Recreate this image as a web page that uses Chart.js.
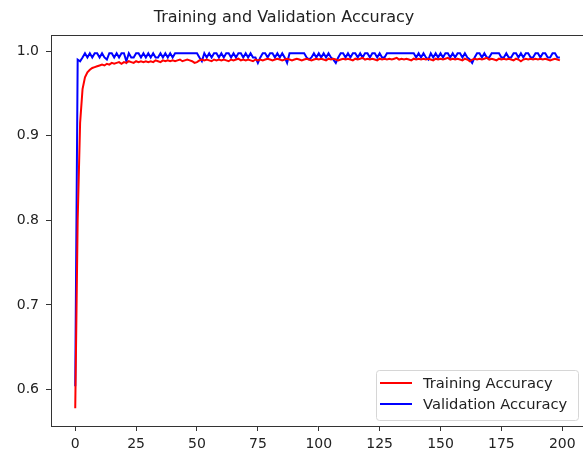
<!DOCTYPE html>
<html>
<head>
<meta charset="utf-8">
<script src="https://cdn.jsdelivr.net/npm/chart.js@4/dist/chart.umd.min.js"></script>
<style>
  html, body { margin: 0; padding: 0; background: #fff; overflow: hidden; }
  canvas { display: block; }
</style>
</head>
<body>
<canvas id="acc" width="583" height="461"></canvas>
<script>
/*
DATA
*/
const chartTitle = 'Training and Validation Accuracy';
const seriesNames = ['Training Accuracy', 'Validation Accuracy'];

// accuracy per epoch, one row = 10 epochs
const trainAcc = [
  0.578, 0.800, 0.915, 0.955, 0.969, 0.975, 0.978, 0.980, 0.981, 0.982,
  0.983, 0.984, 0.983, 0.985, 0.984, 0.986, 0.985, 0.986, 0.987, 0.985,
  0.987, 0.986, 0.988, 0.987, 0.986, 0.988, 0.987, 0.988, 0.987, 0.988,
  0.987, 0.988, 0.987, 0.989, 0.988, 0.987, 0.989, 0.988, 0.989, 0.988,
  0.989, 0.988, 0.989, 0.990, 0.988, 0.989, 0.990, 0.989, 0.988, 0.986,
  0.987, 0.989, 0.990, 0.989, 0.990, 0.989, 0.988, 0.990, 0.989, 0.990,
  0.989, 0.990, 0.989, 0.988, 0.990, 0.989, 0.990, 0.991, 0.989, 0.990,
  0.989, 0.990, 0.989, 0.988, 0.990, 0.989, 0.990, 0.989, 0.990, 0.991,
  0.990, 0.989, 0.990, 0.991, 0.990, 0.989, 0.990, 0.991, 0.990, 0.989,
  0.990, 0.991, 0.990, 0.989, 0.990, 0.991, 0.990, 0.989, 0.990, 0.991,
  0.990, 0.991, 0.990, 0.989, 0.991, 0.990, 0.991, 0.990, 0.989, 0.990,
  0.991, 0.990, 0.991, 0.990, 0.989, 0.991, 0.990, 0.991, 0.992, 0.990,
  0.991, 0.990, 0.991, 0.990, 0.989, 0.991, 0.990, 0.991, 0.990, 0.991,
  0.990, 0.991, 0.992, 0.990, 0.991, 0.990, 0.991, 0.990, 0.989, 0.991,
  0.990, 0.991, 0.990, 0.991, 0.990, 0.991, 0.990, 0.989, 0.991, 0.990,
  0.991, 0.990, 0.991, 0.992, 0.990, 0.991, 0.990, 0.991, 0.990, 0.989,
  0.991, 0.990, 0.988, 0.990, 0.991, 0.990, 0.991, 0.990, 0.991, 0.992,
  0.990, 0.991, 0.990, 0.989, 0.991, 0.990, 0.991, 0.990, 0.991, 0.990,
  0.989, 0.991, 0.990, 0.988, 0.990, 0.991, 0.990, 0.991, 0.990, 0.991,
  0.990, 0.991, 0.990, 0.991, 0.990, 0.989, 0.990, 0.991, 0.990, 0.989
];

const valAcc = [
  0.604, 0.990, 0.988, 0.9925, 0.9975, 0.9925, 0.9975, 0.9925, 0.9975, 0.9975,
  0.9925, 0.9975, 0.9925, 0.990, 0.9975, 0.9975, 0.9925, 0.9975, 0.9925, 0.9975,
  0.9975, 0.988, 0.9975, 0.9925, 0.9925, 0.9975, 0.9975, 0.9925, 0.9975, 0.9925,
  0.9975, 0.9925, 0.9975, 0.9925, 0.9925, 0.9975, 0.9925, 0.9975, 0.9925, 0.9975,
  0.9925, 0.9975, 0.9975, 0.9975, 0.9975, 0.9975, 0.9975, 0.9975, 0.9975, 0.9975,
  0.9975, 0.9925, 0.988, 0.9975, 0.9925, 0.9975, 0.9925, 0.9975, 0.9975, 0.9925,
  0.9975, 0.9925, 0.9975, 0.9975, 0.9925, 0.9975, 0.9925, 0.9975, 0.9975, 0.9925,
  0.9975, 0.9925, 0.9975, 0.9925, 0.9925, 0.986, 0.9925, 0.9975, 0.9975, 0.9925,
  0.9975, 0.9975, 0.9925, 0.9975, 0.9925, 0.9975, 0.9925, 0.986, 0.9975, 0.9975,
  0.9975, 0.9975, 0.9975, 0.9975, 0.9975, 0.9925, 0.990, 0.9925, 0.9975, 0.9925,
  0.9975, 0.9925, 0.9975, 0.9925, 0.9975, 0.9925, 0.990, 0.986, 0.9925, 0.9975,
  0.9975, 0.9925, 0.9975, 0.9925, 0.9975, 0.9975, 0.9925, 0.9975, 0.9925, 0.9975,
  0.9975, 0.9925, 0.9975, 0.9975, 0.9925, 0.9975, 0.9925, 0.9925, 0.9975, 0.9975,
  0.9975, 0.9975, 0.9975, 0.9975, 0.9975, 0.9975, 0.9975, 0.9975, 0.9975, 0.9975,
  0.9925, 0.9975, 0.9925, 0.9975, 0.9925, 0.990, 0.9975, 0.9925, 0.9975, 0.9925,
  0.9975, 0.9925, 0.9975, 0.9975, 0.9925, 0.9975, 0.9925, 0.9975, 0.9975, 0.9925,
  0.9975, 0.9925, 0.990, 0.986, 0.9925, 0.9975, 0.9975, 0.9925, 0.9975, 0.9925,
  0.9925, 0.9975, 0.9975, 0.9975, 0.9975, 0.9925, 0.9925, 0.9975, 0.9925, 0.9925,
  0.9975, 0.9975, 0.9925, 0.9975, 0.9925, 0.9975, 0.9975, 0.9925, 0.9925, 0.9975,
  0.9975, 0.9925, 0.9975, 0.9975, 0.9925, 0.9925, 0.9975, 0.9975, 0.9925, 0.9925
];

const epochs = trainAcc.map((v, i) => i);
const xTicks = [0, 25, 50, 75, 100, 125, 150, 175, 200];
const yTicks = [0.6, 0.7, 0.8, 0.9, 1.0];

/*
CHART VARS
*/
const FONT = '"DejaVu Sans", sans-serif';
const TEXT_COLOR = '#222';
const AXIS_COLOR = '#333';

let canvasAcc = document.getElementById('acc');

let dataAcc = {
  datasets: [{
    label: seriesNames[0],
    data: epochs.map(e => ({ x: e, y: trainAcc[e] })),
    borderColor: '#ff0000',
    borderWidth: 2,
    pointRadius: 0,
    tension: 0,
    fill: false
  }, {
    label: seriesNames[1],
    data: epochs.map(e => ({ x: e, y: valAcc[e] })),
    borderColor: '#0000ff',
    borderWidth: 2,
    pointRadius: 0,
    tension: 0,
    fill: false
  }]
};

// title, top spine and the boxed legend in the lower right
const decorPlugin = {
  id: 'decor',
  afterDraw(chart) {
    const ctx = chart.ctx;
    const area = chart.chartArea;
    ctx.save();

    ctx.strokeStyle = AXIS_COLOR;
    ctx.lineWidth = 1;
    ctx.beginPath();
    ctx.moveTo(area.left, area.top + 0.5);
    ctx.lineTo(area.right, area.top + 0.5);
    ctx.stroke();

    ctx.fillStyle = TEXT_COLOR;
    ctx.font = '16px ' + FONT;
    ctx.textAlign = 'center';
    ctx.textBaseline = 'middle';
    ctx.fillText(chartTitle, 284, 18);

    // legend box
    const bx = 376, by = 370, bw = 202, bh = 50, r = 3;
    ctx.beginPath();
    ctx.roundRect(bx + 0.5, by + 0.5, bw, bh, r);
    ctx.fillStyle = 'rgba(255,255,255,0.8)';
    ctx.fill();
    ctx.strokeStyle = '#d6d6d6';
    ctx.stroke();

    const rows = [383, 404];
    chart.data.datasets.forEach((ds, i) => {
      ctx.strokeStyle = ds.borderColor;
      ctx.lineWidth = 2;
      ctx.beginPath();
      ctx.moveTo(380, rows[i]);
      ctx.lineTo(412, rows[i]);
      ctx.stroke();
      ctx.fillStyle = TEXT_COLOR;
      ctx.font = '14.7px ' + FONT;
      ctx.textAlign = 'left';
      ctx.textBaseline = 'middle';
      ctx.fillText(ds.label, 423, rows[i] + 1);
    });
    ctx.restore();
  }
};

let options = {
  responsive: false,
  animation: false,
  layout: { padding: { top: 35, left: 0, right: 0, bottom: 0 } },
  plugins: {
    legend: { display: false },
    title: { display: false },
    tooltip: { enabled: false }
  },
  scales: {
    x: {
      type: 'linear',
      min: -9.95,
      max: 208.5,
      afterBuildTicks: axis => { axis.ticks = xTicks.map(v => ({ value: v })); },
      afterFit: axis => { axis.height = 35; },
      ticks: {
        color: TEXT_COLOR,
        font: { family: FONT, size: 14 },
        padding: 5,
        maxRotation: 0,
        autoSkip: false
      },
      grid: { drawOnChartArea: false, drawTicks: true, tickLength: 5, color: AXIS_COLOR },
      border: { display: true, color: AXIS_COLOR, width: 1 }
    },
    y: {
      type: 'linear',
      min: 0.557,
      max: 1.019,
      afterBuildTicks: axis => { axis.ticks = yTicks.map(v => ({ value: v })); },
      afterFit: axis => { axis.width = 51; },
      ticks: {
        color: TEXT_COLOR,
        font: { family: FONT, size: 14 },
        padding: 7,
        autoSkip: false,
        callback: v => v.toFixed(1)
      },
      grid: { drawOnChartArea: false, drawTicks: true, tickLength: 5, color: AXIS_COLOR },
      border: { display: true, color: AXIS_COLOR, width: 1 }
    }
  }
};

let accuracy = new Chart(canvasAcc, {
  type: 'line',
  data: dataAcc,
  options: options,
  plugins: [decorPlugin]
});
</script>
</body>
</html>
